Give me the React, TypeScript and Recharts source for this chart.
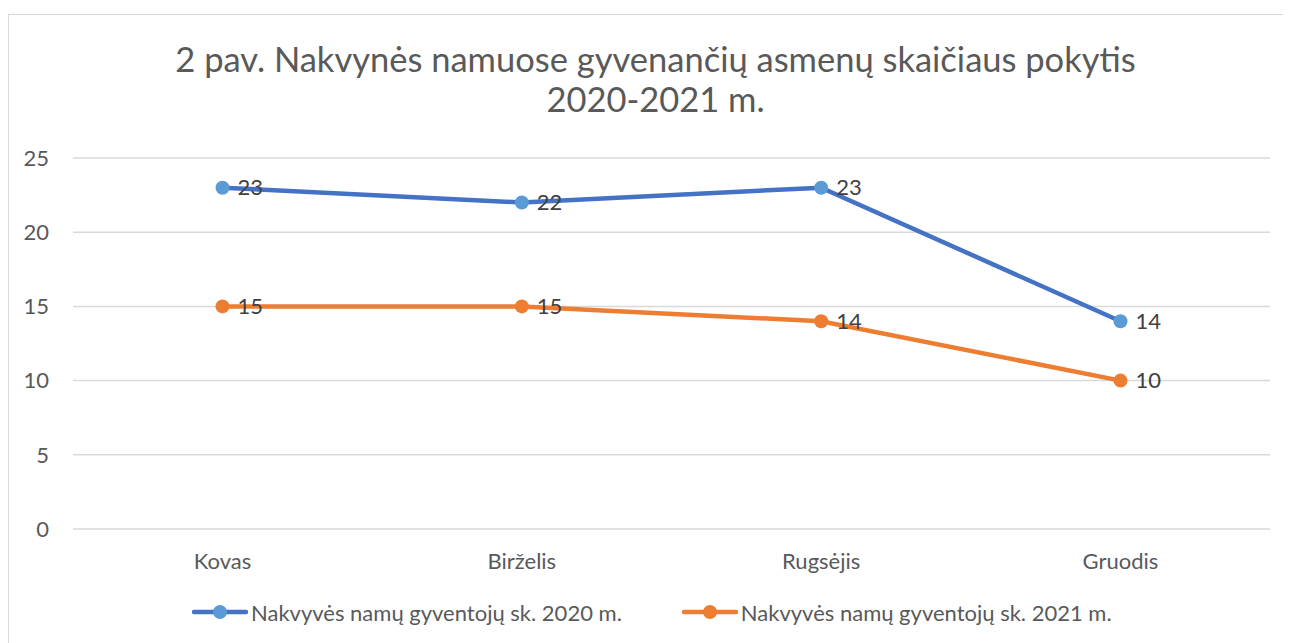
import React from "react";
import { LineChart, Line, XAxis, YAxis, CartesianGrid, Legend, LabelList } from "recharts";

const months = ["Kovas", "Birželis", "Rugsėjis", "Gruodis"];
const residents2020 = [23, 22, 23, 14];
const residents2021 = [15, 15, 14, 10];
const yTicks = [0, 5, 10, 15, 20, 25];

const SERIES = [
  { key: "y2020", name: "Nakvyvės namų gyventojų sk. 2020 m.", line: "#4472C4", dot: "#5B9BD5" },
  { key: "y2021", name: "Nakvyvės namų gyventojų sk. 2021 m.", line: "#ED7D31", dot: "#ED7D31" },
];

const data = months.map((m, i) => ({ month: m, y2020: residents2020[i], y2021: residents2021[i] }));

const FONT = "Lato, 'Open Sans', sans-serif";
const TXT = 22;

function ChartLegend() {
  return (
    <div style={{ display: "flex", alignItems: "center", height: 30, paddingLeft: 184, fontFamily: FONT }}>
      {SERIES.map((s, i) => (
        <div key={s.key} style={{ display: "flex", alignItems: "center", marginRight: i === 0 ? 60 : 0 }}>
          <svg width={56} height={16}>
            <line x1={2} y1={8} x2={54} y2={8} stroke={s.line} strokeWidth={4.5} strokeLinecap="round" />
            <circle cx={28} cy={8} r={7} fill={s.dot} />
          </svg>
          <span style={{ fontSize: TXT, color: "#595959", marginLeft: 3 }}>{s.name}</span>
        </div>
      ))}
    </div>
  );
}

export default function App() {
  return (
    <div style={{ position: "relative", width: 1283, height: 635, overflow: "hidden", fontFamily: FONT }}>
      <div
        style={{
          position: "absolute",
          left: 0,
          top: 6,
          width: 1280,
          height: 660,
          border: "1.5px solid #d9d9d9",
          boxSizing: "border-box",
        }}
      />
      <div
        style={{
          position: "absolute",
          left: 6,
          top: 31,
          width: 1283,
          textAlign: "center",
          fontSize: 34.5,
          lineHeight: "40px",
          color: "#595959",
        }}
      >
        2 pav. Nakvynės namuose gyvenančių asmenų skaičiaus pokytis
        <br />
        2020-2021 m.
      </div>
      <LineChart width={1283} height={635} data={data} margin={{ top: 150, right: 21, left: 25, bottom: 54 }}>
        <CartesianGrid vertical={false} stroke="#d9d9d9" strokeWidth={1.5} />
        <XAxis
          dataKey="month"
          axisLine={false}
          tickLine={false}
          tickSize={0}
          tickMargin={24}
          height={30}
          padding={{ left: 149.5, right: 149.5 }}
          tick={{ fill: "#595959", fontSize: TXT, fontFamily: FONT }}
        />
        <YAxis
          domain={[0, 25]}
          ticks={yTicks}
          axisLine={false}
          tickLine={false}
          tickSize={0}
          tickMargin={24}
          width={40}
          tick={{ fill: "#595959", fontSize: TXT, fontFamily: FONT }}
        />
        <Legend
          verticalAlign="bottom"
          content={() => <ChartLegend />}
          wrapperStyle={{ top: 589, bottom: "auto", left: 0, width: 1283, height: 30 }}
        />
        {SERIES.map((s) => (
          <Line
            key={s.key}
            dataKey={s.key}
            name={s.name}
            stroke={s.line}
            strokeWidth={4.5}
            dot={{ r: 7, fill: s.dot, stroke: s.dot, strokeWidth: 0 }}
            activeDot={false}
            isAnimationActive={false}
          >
            <LabelList dataKey={s.key} position="right" offset={15} fill="#404040" fontSize={TXT} fontFamily={FONT} />
          </Line>
        ))}
      </LineChart>
    </div>
  );
}
